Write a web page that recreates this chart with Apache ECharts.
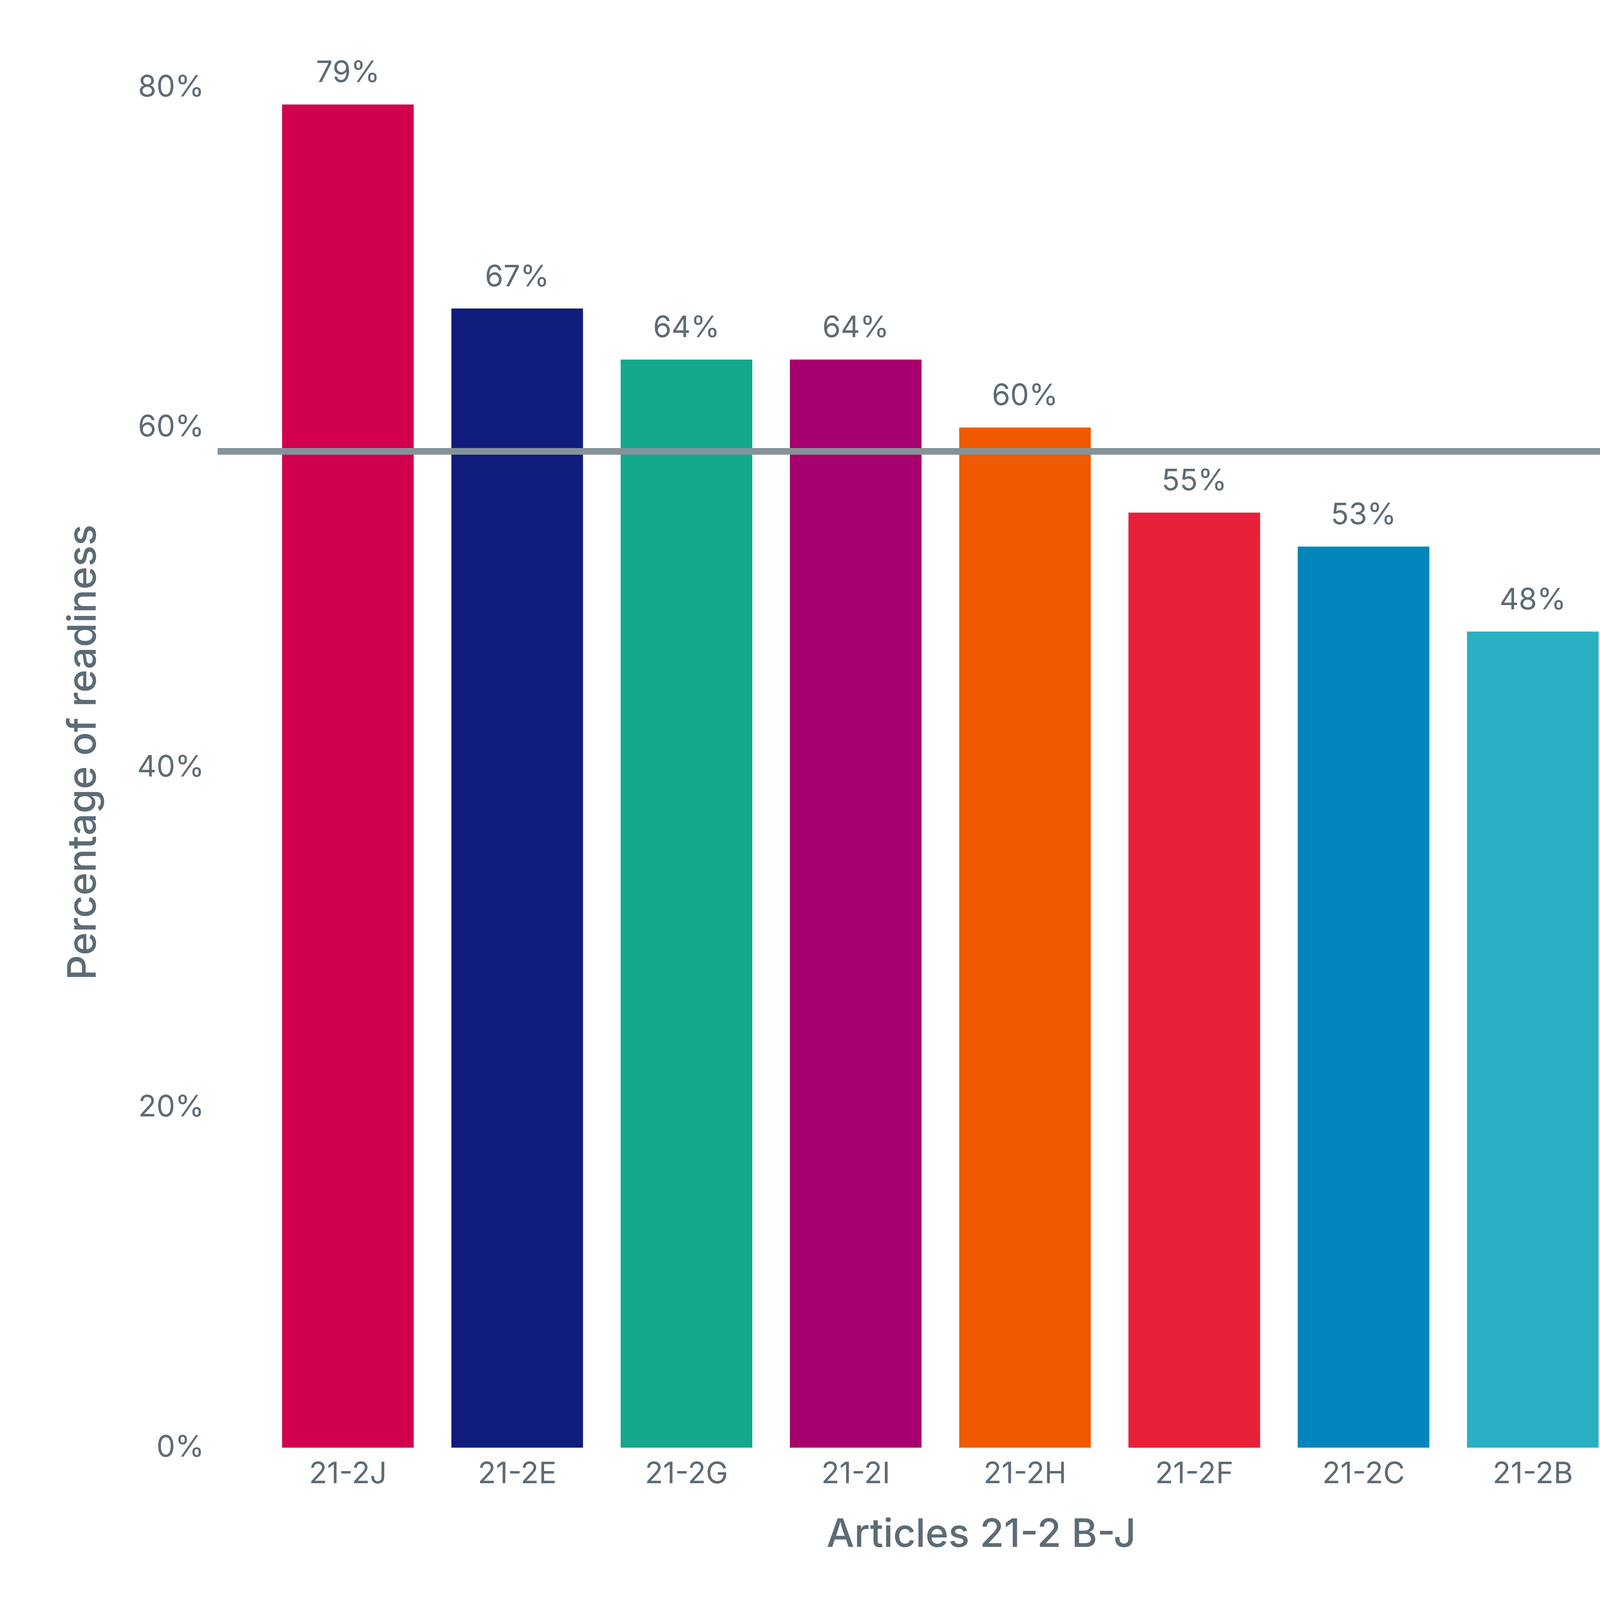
<!DOCTYPE html>
<html>
<head>
<meta charset="utf-8">
<script src="https://cdn.jsdelivr.net/npm/echarts@6/dist/echarts.min.js"></script>
<style>
    html, body {
        margin: 0;
        padding: 0;
        background: #ffffff;
    }
    #readiness-chart {
        width: 5396px;
        height: 6767px;
    }
</style>
</head>
<body>
<div id="readiness-chart"></div>

<script>
    // articles, sorted as in the chart
    var articles = ['21-2J', '21-2E', '21-2G', '21-2I', '21-2H', '21-2F', '21-2C', '21-2B', '21-2D'];
    var readiness = [79, 67, 64, 64, 60, 55, 53, 48, 37];
    var barColors = ['#d1004f', '#111d7c', '#13a98a', '#a7006e', '#f05a00', '#e8203a', '#0085bd', '#2ab0c3', '#74e2d8'];
    // grey reference line (average readiness)
    var averageLine = 58.6;
    var yTicks = [0, 20, 40, 60, 80];

    // legend table
    var legendLeft = ['21-2J', '21-2E', '21-2G', '21-2I', '21-2H'];
    var legendRight = ['21-2F', '21-2C', '21-2B', '21-2D'];
    var descriptions = {
        '21-2J': 'Authentication Solutions and\nSecure Communication',
        '21-2E': 'Security in the Acquisition,\nDevelopment, and Maintenance of\nNetwork and Information Systems',
        '21-2G': 'Basic Requirements for Cyber\nHygiene and Security Training',
        '21-2I': 'Personnel, Access and Asset\nManagement',
        '21-2H': 'Policies and Measures for\nCryptography',
        '21-2F': 'Policies and procedures to\nassess the effectiveness\nof cybersecurity risk-\nmanagement measures',
        '21-2C': 'Business Continuity and Crisis\nManagement',
        '21-2B': 'Incident handling',
        '21-2D': 'Supply Chain Security'
    };

    var textColor = '#5d6b75';
    var cellGrey = '#e4eced';
    var fontFamily = 'Inter, "Noto Sans", sans-serif';

    function colorOf(code) {
        return barColors[articles.indexOf(code)];
    }

    //表格布局
    var rowTops = [4109, 4785, 5318, 5712, 6105];
    var rowBottoms = [4778, 5311, 5705, 6098, 6508];
    var columns = [
        { codeX: 272, codeW: 465, descX: 743, descW: 2034 },
        { codeX: 2784, codeW: 478, descX: 3269, descW: 1855 }
    ];

    function buildLegend() {
        var items = [];
        var cols = [legendLeft, legendRight];
        for (var c = 0; c < 2; c++) {
            var col = columns[c];
            for (var r = 0; r < rowTops.length; r++) {
                var code = cols[c][r];
                var h = rowBottoms[r] - rowTops[r];
                items.push({
                    type: 'rect',
                    shape: { x: col.codeX, y: rowTops[r], width: col.codeW, height: h },
                    style: { fill: code ? colorOf(code) : cellGrey }
                });
                items.push({
                    type: 'rect',
                    shape: { x: col.descX, y: rowTops[r], width: col.descW, height: h },
                    style: { fill: cellGrey }
                });
                if (!code) continue;
                items.push({
                    type: 'text',
                    x: col.codeX + 65,
                    y: rowTops[r] + 70,
                    style: {
                        text: code,
                        fill: '#ffffff',
                        fontSize: 116,
                        fontWeight: 500,
                        fontFamily: fontFamily,
                        lineHeight: 140,
                        verticalAlign: 'top'
                    }
                });
                items.push({
                    type: 'text',
                    x: col.descX + 77,
                    y: rowTops[r] + 70,
                    style: {
                        text: descriptions[code],
                        fill: textColor,
                        fontSize: 116,
                        fontFamily: fontFamily,
                        lineHeight: 140,
                        verticalAlign: 'top'
                    }
                });
            }
        }
        return items;
    }

    var chart = echarts.init(document.getElementById('readiness-chart'));

    var option = {
        animation: false,
        backgroundColor: '#ffffff',
        textStyle: { fontFamily: fontFamily },
        grid: [
            { left: 674, right: 822, top: 224, height: 3482 },
            { left: 557, right: 698, top: 224, height: 3482 }
        ],
        xAxis: [
            {
                type: 'category',
                gridIndex: 0,
                data: articles,
                axisLine: { show: false },
                axisTick: { show: false },
                axisLabel: {
                    color: textColor,
                    fontSize: 76,
                    fontFamily: fontFamily,
                    margin: 30
                }
            },
            { type: 'value', gridIndex: 1, min: 0, max: 1, show: false }
        ],
        yAxis: [
            {
                type: 'value',
                gridIndex: 0,
                min: yTicks[0],
                max: yTicks[yTicks.length - 1],
                interval: 20,
                axisLine: { show: false },
                axisTick: { show: false },
                splitLine: { show: false },
                axisLabel: {
                    color: textColor,
                    fontSize: 76,
                    fontFamily: fontFamily,
                    margin: 151,
                    formatter: '{value}%'
                }
            },
            { type: 'value', gridIndex: 1, min: 0, max: 80, show: false }
        ],
        series: [
            {
                type: 'line',
                xAxisIndex: 1,
                yAxisIndex: 1,
                z: 1,
                data: [],
                markLine: {
                    silent: true,
                    symbol: ['none', 'none'],
                    label: { show: false },
                    lineStyle: { color: '#84939a', width: 17, type: 'solid' },
                    data: [{ yAxis: averageLine }]
                }
            },
            {
                type: 'bar',
                xAxisIndex: 0,
                yAxisIndex: 0,
                z: 3,
                barWidth: 337,
                data: readiness.map(function (v, i) {
                    return { value: v, itemStyle: { color: barColors[i] } };
                }),
                label: {
                    show: true,
                    position: 'top',
                    distance: 42,
                    color: textColor,
                    fontSize: 76,
                    fontFamily: fontFamily,
                    formatter: '{c}%'
                }
            }
        ],
        graphic: [
            {
                type: 'text',
                x: 215,
                y: 1926,
                rotation: Math.PI / 2,
                style: {
                    text: 'Percentage of readiness',
                    fill: textColor,
                    fontSize: 100,
                    fontWeight: 500,
                    fontFamily: fontFamily,
                    align: 'center',
                    verticalAlign: 'middle'
                }
            },
            {
                type: 'text',
                x: 2512,
                y: 3930,
                style: {
                    text: 'Articles 21-2 B-J',
                    fill: textColor,
                    fontSize: 100,
                    fontWeight: 500,
                    fontFamily: fontFamily,
                    align: 'center',
                    verticalAlign: 'middle'
                }
            }
        ].concat(buildLegend())
    };

    chart.setOption(option);
</script>
</body>
</html>
